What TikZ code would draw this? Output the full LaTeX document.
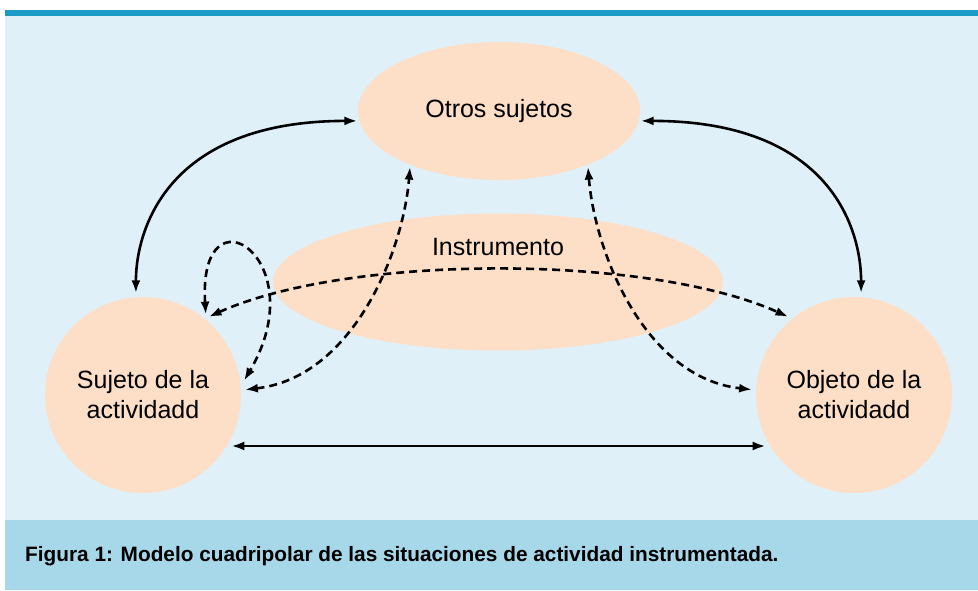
\documentclass[tikz,border=0pt]{standalone}
\usepackage{fontspec}
\setmainfont{Liberation Sans}
\usetikzlibrary{shapes.geometric}
\usetikzlibrary{arrows.meta}

\definecolor{skyback}{HTML}{DFF0F9}
\definecolor{peach}{HTML}{FDDFC7}
\definecolor{bandblue}{HTML}{A6D8EA}
\definecolor{topline}{HTML}{1A9BC5}

\begin{document}
\begin{tikzpicture}[x=1pt,y=-1pt,
                pole node/.style={circle,fill=peach,minimum size=196pt,inner sep=0pt,outer sep=4pt,align=center,font=\fontsize{25}{30}\selectfont},
                oval node/.style={ellipse,fill=peach,inner sep=0pt,outer sep=2pt,font=\fontsize{25}{30}\selectfont},
                link/.style={line width=2.6pt,{Latex[length=13pt,width=9pt]}-{Latex[length=13pt,width=9pt]}},
                dlink/.style={link,dash pattern=on 8pt off 5pt},
                ]
                \useasboundingbox (0,0) rectangle (978,590);
                \fill[white] (0,0) rectangle (978,590);
                \fill[skyback] (5,16) rectangle (978,520);
                \fill[topline] (5,10) rectangle (978,16);
                \fill[bandblue] (5,520) rectangle (978,590);

                \node[oval node,minimum width=282pt,minimum height=138pt] (otros) at (499,111) {Otros sujetos};
                \node[oval node,minimum width=450pt,minimum height=137pt] (instr) at (498,282) {};
                \node[font=\fontsize{25}{30}\selectfont] (instrtxt) at (498,247) {Instrumento};
                \node[pole node] (suj) at (143,395) {Sujeto de la\\actividadd};
                \node[pole node] (obj) at (854,395) {Objeto de la\\actividadd};

                \draw[link] (otros.184) .. controls +(-190,0) and +(0,-64) .. (suj.94);
                \draw[link] (otros.-4) .. controls +(190,0) and +(0,-64) .. (obj.86);
                \draw[link] (suj.-30) -- (obj.210);

                \draw[dlink] (suj.50) .. controls +(140,-63) and +(-140,-63) .. (obj.130);
                \draw[dlink] (suj.3) .. controls +(107,-12) and +(-7,87) .. (otros.212);
                \draw[dlink] (otros.-32) .. controls +(7,87) and +(-107,-12) .. (obj.177);
                \draw[dlink] (suj.52) .. controls +(-8,-132) and +(72,-122) .. (suj.8);

                \node[anchor=base west,inner sep=0pt,font=\bfseries\fontsize{20.8}{24}\selectfont] (caption) at (25,561) {Figura 1: Modelo cuadripolar de las situaciones de actividad instrumentada.};
            \end{tikzpicture}
\end{document}
